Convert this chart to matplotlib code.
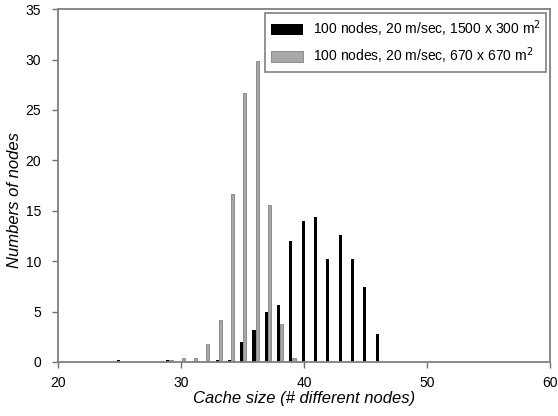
import matplotlib.pyplot as plt
import numpy as np

plt.rcParams['font.family'] = ['Liberation Sans', 'DejaVu Sans']

# cache size (x) and number of nodes for each scenario
x_black = [25, 29, 33, 34, 35, 36, 37, 38, 39, 40, 41, 42, 43, 44, 45, 46]
y_black = [0.2, 0.2, 0.2, 0.2, 1.95, 3.2, 5.0, 5.6, 12.0, 14.0, 14.4, 10.2, 12.6, 10.2, 7.4, 2.75]

x_grey = [29, 30, 31, 32, 33, 34, 35, 36, 37, 38, 39]
y_grey = [0.2, 0.4, 0.4, 1.8, 4.2, 16.7, 26.7, 29.85, 15.6, 3.8, 0.4]

label_black = '100 nodes, 20 m/sec, 1500 x 300 m$^2$'
label_grey = '100 nodes, 20 m/sec, 670 x 670 m$^2$'

fig = plt.figure(figsize=(5.58, 4.16), dpi=100)
ax = fig.add_axes([0.104, 0.130, 0.882, 0.848])

ax.bar(np.array(x_black) - 0.07, y_black, width=0.25, color='black', label=label_black)
ax.bar(np.array(x_grey) + 0.18, y_grey, width=0.25, color='#a8a8a8',
       edgecolor='#707070', linewidth=0.5, label=label_grey)

ax.set_xlim(20, 60)
ax.set_ylim(0, 35)
ax.set_xticks([20, 30, 40, 50, 60])
ax.set_yticks(range(0, 36, 5))
ax.tick_params(direction='out', length=4, width=1, color='#707070', labelsize=10)
ax.tick_params(axis='y', pad=8)
ax.tick_params(axis='x', pad=6)

for s in ax.spines.values():
    s.set_color('#808080')
    s.set_linewidth(1.3)

ax.set_xlabel('Cache size (# different nodes)', fontsize=12, style='italic', labelpad=1)
ax.set_ylabel('Numbers of nodes', fontsize=12, style='italic')
ax.yaxis.set_label_coords(-0.074, 0.46)

leg = ax.legend(loc='upper right', fontsize=10, fancybox=False, framealpha=1,
                edgecolor='#808080', borderaxespad=0.3, handlelength=2.3,
                handleheight=0.9, handletextpad=0.7, labelspacing=0.45)
leg.get_frame().set_linewidth(1.2)

plt.savefig('out.png', dpi=100)
